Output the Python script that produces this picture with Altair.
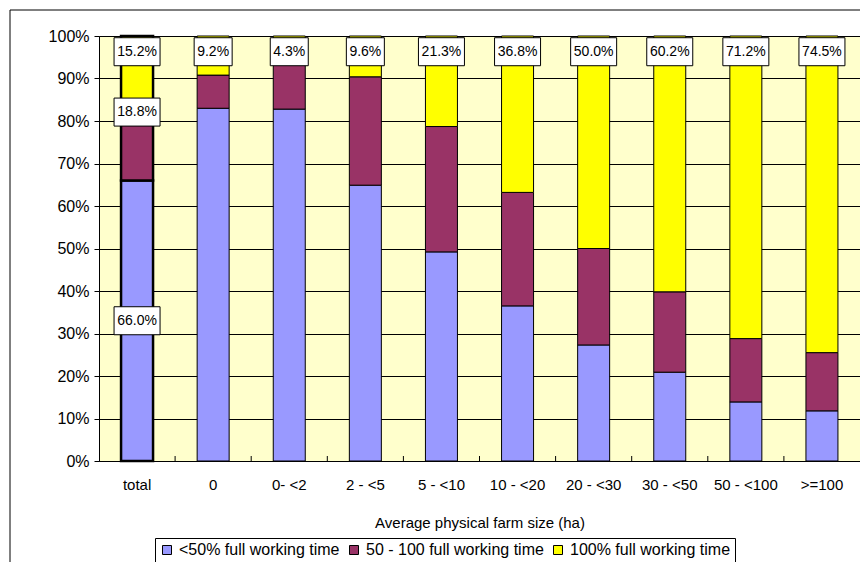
import altair as alt
import pandas as pd

categories = ["total", "0", "0- <2", "2 - <5", "5 - <10", "10 - <20",
              "20 - <30", "30 - <50", "50 - <100", ">=100"]
series = ["<50% full working time", "50 - 100 full working time", "100% full working time"]
under_50 = [66.0, 83.0, 82.8, 64.9, 49.2, 36.5, 27.3, 20.9, 13.9, 11.8]
between_50_100 = [18.8, 7.8, 12.9, 25.5, 29.5, 26.7, 22.7, 18.9, 14.9, 13.7]
full_time = [15.2, 9.2, 4.3, 9.6, 21.3, 36.8, 50.0, 60.2, 71.2, 74.5]
colors = ["#9999FF", "#993366", "#FFFF00"]

FONT = "Liberation Sans"

rows = []
for i, c in enumerate(categories):
    base = 0.0
    for k, (s, vals) in enumerate(zip(series, [under_50, between_50_100, full_time])):
        v = vals[i]
        rows.append(dict(cat=c, series=s, value=v, lo=base, hi=base + v, k=k))
        base += v
df = pd.DataFrame(rows)

# labels: top series for all bars, all series for the "total" bar
lab = []
for r in rows:
    if r["k"] == 2:
        pos = 96.3
    elif r["cat"] == "total" and r["k"] == 1:
        pos = r["hi"] - 2.7
    elif r["cat"] == "total" and r["k"] == 0:
        pos = (r["lo"] + r["hi"]) / 2
    else:
        continue
    txt = f"{r['value']:.1f}%"
    lab.append(dict(cat=r["cat"], pos=pos, txt=txt, n=str(len(txt))))
labdf = pd.DataFrame(lab)
labdf["bsize"] = labdf["n"].map({"4": 38 ** 2, "5": 46 ** 2})
path4 = "M-1,-0.737L1,-0.737L1,0.737L-1,0.737Z"
path5 = "M-1,-0.609L1,-0.609L1,0.609L-1,0.609Z"

xscale = alt.Scale(paddingInner=0, paddingOuter=0)
yscale = alt.Scale(domain=[0, 100], nice=False)

xaxis = alt.Axis(title="Average physical farm size (ha)", labelAngle=0, ticks=False,
                 domainColor="black", labelFontSize=15, labelPadding=16,
                 titleFontSize=15, titleFontWeight="normal", titlePadding=23,
                 labelColor="black", titleColor="black", grid=False)
yaxis = alt.Axis(values=list(range(0, 101, 10)), labelExpr="datum.value + '%'",
                 title=None, tickSize=5, tickColor="black", domainColor="black",
                 grid=True, gridColor="black", labelFontSize=16, labelPadding=5,
                 labelColor="black")

X = alt.X("cat:N", sort=categories, scale=xscale, axis=xaxis)

bars = alt.Chart(df).mark_bar(width=32, stroke="black").encode(
    x=X,
    y=alt.Y("hi:Q", scale=yscale, axis=yaxis),
    y2="lo:Q",
    color=alt.Color("series:N", sort=series,
                    scale=alt.Scale(domain=series, range=colors),
                    legend=alt.Legend(orient="none", legendX=56, legendY=502,
                                      direction="horizontal", columns=3, title=None,
                                      symbolType="square", symbolSize=81,
                                      symbolStrokeColor="black", symbolStrokeWidth=1,
                                      labelFontSize=16, labelColor="black", labelLimit=400,
                                      strokeColor="black", fillColor="white",
                                      padding=4, columnPadding=6, labelOffset=4)),
    order=alt.Order("k:Q"),
    strokeWidth=alt.condition("datum.cat == 'total'", alt.value(2.5), alt.value(1)),
)

ticks = alt.Chart(pd.DataFrame({"cat": categories[1:]})).mark_rule(color="black").encode(
    x=alt.X("cat:N", sort=categories, scale=xscale, bandPosition=0, axis=xaxis),
    y=alt.value(425), y2=alt.value(420),
)

boxes = alt.Chart(labdf).mark_point(filled=True, fill="white", stroke="black",
                                    strokeWidth=1, opacity=1).encode(
    x=X,
    y=alt.Y("pos:Q", scale=yscale, axis=yaxis),
    shape=alt.Shape("n:N", scale=alt.Scale(domain=["4", "5"], range=[path4, path5]), legend=None),
    size=alt.Size("bsize:Q", scale=None, legend=None),
)

texts = alt.Chart(labdf).mark_text(font=FONT, fontSize=14, color="black").encode(
    x=X,
    y=alt.Y("pos:Q", scale=yscale, axis=yaxis),
    text="txt:N",
)

border_top = alt.Chart(pd.DataFrame({"a": [0]})).mark_rule(color="black").encode(
    x=alt.value(-89), x2=alt.value(761), y=alt.value(-26))
border_left = alt.Chart(pd.DataFrame({"a": [0]})).mark_rule(color="black").encode(
    x=alt.value(-89), y=alt.value(-26), y2=alt.value(526))

chart = alt.layer(bars, ticks, boxes, texts, border_top, border_left).properties(
    width=761, height=425,
    autosize=alt.AutoSizeParams(type="none"),
    padding={"left": 91, "top": 28, "right": 0, "bottom": 101},
    background="white",
).configure(font=FONT).configure_view(
    fill="#FFFFCC", stroke="#A0A0A0", strokeWidth=1
).configure_axis(labelFont=FONT, titleFont=FONT).configure_legend(labelFont=FONT)

chart.save("out.html", embed_options={"renderer": "svg", "actions": False})
